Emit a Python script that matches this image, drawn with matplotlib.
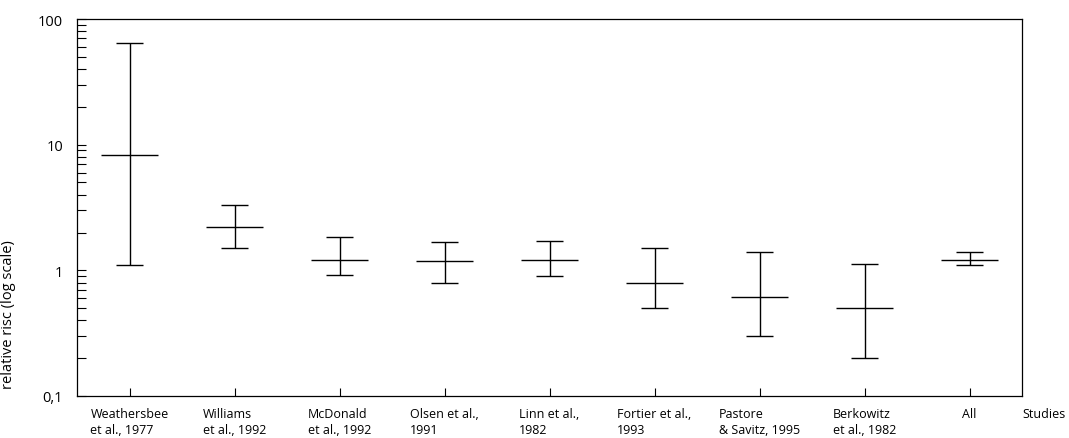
import numpy as np
import matplotlib
matplotlib.use('Agg')
import matplotlib.pyplot as plt
from matplotlib.ticker import FixedLocator, LogLocator, NullFormatter

plt.rcParams['font.family'] = ['Open Sans', 'DejaVu Sans']

# studies and relative risk (point estimate with confidence interval)
studies = ['Weathersbee\net al., 1977', 'Williams\net al., 1992', 'McDonald\net al., 1992',
           'Olsen et al.,\n1991', 'Linn et al.,\n1982', 'Fortier et al.,\n1993',
           'Pastore\n& Savitz, 1995', 'Berkowitz\net al., 1982', 'All']
rr = [8.3, 2.2, 1.21, 1.19, 1.21, 0.80, 0.61, 0.505, 1.21]
ci_low = [1.1, 1.5, 0.91, 0.80, 0.90, 0.50, 0.30, 0.20, 1.11]
ci_high = [65, 3.3, 1.83, 1.69, 1.71, 1.50, 1.40, 1.12, 1.40]

y_ticks = [0.1, 1, 10, 100]
y_ticklabels = ['0,1', '1', '10', '100']

fig = plt.figure(figsize=(10.69, 4.39), dpi=100)
ax = fig.add_axes([77 / 1069, 42 / 439, 945 / 1069, 377 / 439])

x = np.arange(1, len(studies) + 1)
cap = 0.13
mid = 0.27
ax.vlines(x, ci_low, ci_high, color='black', lw=1)
ax.hlines(ci_low, x - cap, x + cap, color='black', lw=1)
ax.hlines(ci_high, x - cap, x + cap, color='black', lw=1)
ax.hlines(rr, x - mid, x + mid, color='black', lw=1)

ax.set_yscale('log')
ax.set_ylim(0.1, 100)
ax.set_xlim(0.5, len(studies) + 0.5)

ax.yaxis.set_major_locator(FixedLocator(y_ticks))
ax.set_yticklabels(y_ticklabels, fontsize=10.5)
ax.yaxis.set_minor_locator(LogLocator(base=10, subs=np.arange(2, 10)))
ax.yaxis.set_minor_formatter(NullFormatter())
ax.tick_params(axis='y', which='both', direction='in', length=6.5, width=0.8, pad=10)

ax.set_xticks(x)
ax.set_xticklabels(studies, fontsize=9, multialignment='left', linespacing=1.25)
ax.tick_params(axis='x', direction='in', length=6, width=0.8, pad=8)

for sp in ax.spines.values():
    sp.set_linewidth(0.9)

ax.set_ylabel('relative risc (log scale)', fontsize=10.5)
ax.yaxis.set_label_coords(-0.065, 0.219)

ax.annotate('Studies', xy=(1, 0), xycoords='axes fraction', xytext=(0, -8),
            textcoords='offset points', ha='left', va='top', fontsize=9)

fig.savefig('out.png', dpi=100)
